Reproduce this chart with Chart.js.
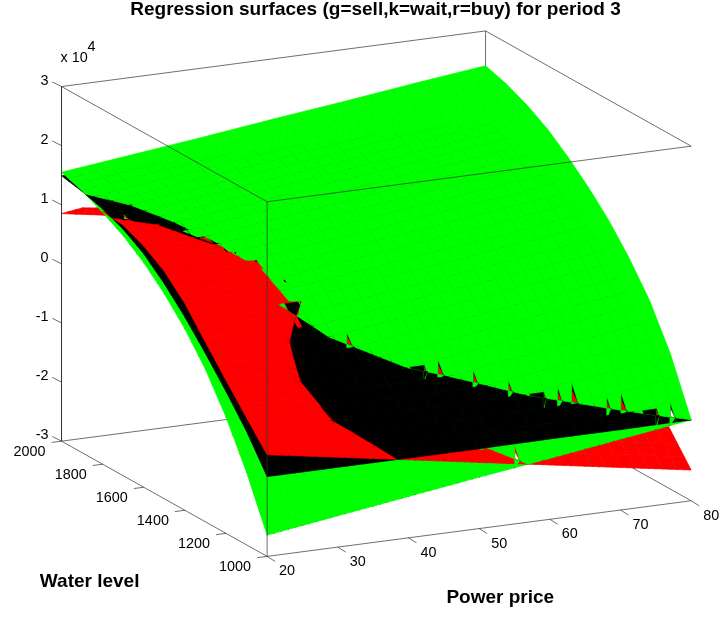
<!DOCTYPE html>
<html>
<head>
<meta charset="utf-8">
<title>Regression surfaces</title>
<script src="https://cdn.jsdelivr.net/npm/chart.js@4"></script>
<style>
  html, body { margin: 0; padding: 0; background: #fff; }
  canvas { display: block; }
</style>
</head>
<body>
<canvas id="surfaceChart" width="721" height="617"></canvas>
<script>
// axis values
let powerPrices = [20, 30, 40, 50, 60, 70, 80];
let waterLevels = [1000, 1100, 1200, 1300, 1400, 1500, 1600, 1700, 1800, 1900, 2000];
let levelTicks = [1000, 1200, 1400, 1600, 1800, 2000];
let valueTicks = [-3, -2, -1, 0, 1, 2, 3];

// surface heights in units of 10^4, one row per water level, one column per price
let sellSurface = [
  [-2.64, -2.47, -2.30, -2.13, -1.97, -1.80, -1.63],
  [-1.77, -1.60, -1.42, -1.25, -1.07, -0.90, -0.72],
  [-1.03, -0.86, -0.69, -0.53, -0.36, -0.19, -0.02],
  [-0.42, -0.27, -0.11, 0.05, 0.20, 0.36, 0.51],
  [0.07, 0.22, 0.37, 0.52, 0.66, 0.81, 0.96],
  [0.47, 0.61, 0.76, 0.90, 1.04, 1.19, 1.33],
  [0.80, 0.94, 1.08, 1.23, 1.37, 1.51, 1.65],
  [1.06, 1.21, 1.35, 1.50, 1.64, 1.79, 1.93],
  [1.26, 1.41, 1.55, 1.70, 1.85, 1.99, 2.14],
  [1.43, 1.58, 1.72, 1.87, 2.01, 2.16, 2.30],
  [1.55, 1.69, 1.83, 1.98, 2.12, 2.27, 2.41],
];
let waitSurface = [
  [-1.65, -1.65, -1.65, -1.65, -1.64, -1.64, -1.63],
  [-1.08, -1.08, -1.08, -1.08, -1.08, -1.08, -1.08],
  [-0.60, -0.60, -0.60, -0.60, -0.60, -0.60, -0.60],
  [-0.15, -0.15, -0.15, -0.15, -0.15, -0.15, -0.15],
  [0.27, 0.27, 0.27, 0.27, 0.27, 0.27, 0.27],
  [0.64, 0.64, 0.64, 0.64, 0.64, 0.64, 0.64],
  [0.95, 0.95, 0.95, 0.95, 0.95, 0.95, 0.95],
  [1.17, 1.17, 1.17, 1.17, 1.17, 1.17, 1.17],
  [1.32, 1.32, 1.32, 1.32, 1.32, 1.32, 1.32],
  [1.42, 1.42, 1.42, 1.42, 1.42, 1.42, 1.42],
  [1.49, 1.49, 1.49, 1.49, 1.49, 1.49, 1.49],
];
let buySurface = [
  [-1.28, -1.48, -1.68, -1.88, -2.08, -2.28, -2.48],
  [-0.85, -1.04, -1.23, -1.43, -1.62, -1.81, -2.00],
  [-0.41, -0.59, -0.78, -0.96, -1.14, -1.33, -1.51],
  [0.04, -0.12, -0.28, -0.43, -0.59, -0.75, -0.91],
  [0.50, 0.36, 0.22, 0.08, -0.07, -0.21, -0.35],
  [0.85, 0.72, 0.58, 0.45, 0.32, 0.18, 0.05],
  [1.08, 0.95, 0.81, 0.68, 0.55, 0.41, 0.28],
  [1.24, 1.10, 0.96, 0.82, 0.67, 0.53, 0.39],
  [1.27, 1.12, 0.97, 0.82, 0.67, 0.52, 0.37],
  [1.14, 0.97, 0.79, 0.62, 0.44, 0.27, 0.09],
  [0.85, 0.65, 0.45, 0.25, 0.05, -0.15, -0.35],
];

let surfaces = [
  { rows: sellSurface, color: "#00ff00" },
  { rows: waitSurface, color: "#000000" },
  { rows: buySurface, color: "#ff0000" },
];

// how many pieces each grid cell is cut into, gives the mesh its speckle
let pricePieces = 5;
let levelPieces = 3;

// oblique view of the box, in canvas units
function project(price, level, value) {
  let t = (price - 20) / 60;
  let v = (level - 1000) / 1000;
  let w = (value + 3) / 6;
  return {
    x: 268.5 + 426.5 * t - 206.8 * v,
    y: 560 - 56 * t - 116 * v - 357 * w,
  };
}

// height of a surface inside one grid cell
function heightAt(rows, i, j, price, level) {
  let a = (price - powerPrices[j]) / (powerPrices[j + 1] - powerPrices[j]);
  let b = (level - waterLevels[i]) / (waterLevels[i + 1] - waterLevels[i]);
  return (
    rows[i][j] * (1 - a) * (1 - b) +
    rows[i][j + 1] * a * (1 - b) +
    rows[i + 1][j] * (1 - a) * b +
    rows[i + 1][j + 1] * a * b
  );
}

// cut a polygon in two where the function gap changes sign
function splitPolygon(poly, gap) {
  let above = [];
  let below = [];
  poly.forEach(function (p, n) {
    let q = poly[(n + 1) % poly.length];
    let gp = gap(p);
    let gq = gap(q);
    (gp >= 0 ? above : below).push(p);
    if (gp >= 0 !== gq >= 0) {
      let s = gp / (gp - gq);
      let cut = [p[0] + (q[0] - p[0]) * s, p[1] + (q[1] - p[1]) * s];
      above.push(cut);
      below.push(cut);
    }
  });
  return [above, below].filter(function (part) {
    return part.length > 2;
  });
}

// build the surface pieces. The viewer looks from the low price, low level
// corner and from above, so nearer cells come first and inside a cell the
// highest piece comes first.
let pieces = [];
for (let i = 0; i < waterLevels.length - 1; i++) {
  for (let b = 0; b < levelPieces; b++) {
    for (let j = 0; j < powerPrices.length - 1; j++) {
      for (let a = 0; a < pricePieces; a++) {
        let dp = (powerPrices[j + 1] - powerPrices[j]) / pricePieces;
        let dl = (waterLevels[i + 1] - waterLevels[i]) / levelPieces;
        let p0 = powerPrices[j] + a * dp;
        let l0 = waterLevels[i] + b * dl;
        let cellPieces = [];
        surfaces.forEach(function (surface) {
          let polys = [[[p0, l0], [p0 + dp, l0], [p0 + dp, l0 + dl], [p0, l0 + dl]]];
          surfaces.forEach(function (other) {
            if (other === surface) return;
            let gap = function (p) {
              return heightAt(surface.rows, i, j, p[0], p[1]) - heightAt(other.rows, i, j, p[0], p[1]);
            };
            let next = [];
            polys.forEach(function (poly) {
              next = next.concat(splitPolygon(poly, gap));
            });
            polys = next;
          });
          polys.forEach(function (poly) {
            // whole cells get an extra corner on one edge for the mesh dots
            let speckled = poly.length === 4;
            if (speckled) {
              poly = [poly[0], [p0 + dp / 2, l0], poly[1], poly[2], poly[3]];
            }
            let sum = 0;
            let points = poly.map(function (p) {
              let z = heightAt(surface.rows, i, j, p[0], p[1]);
              sum += z;
              return project(p[0], p[1], z);
            });
            points.push(points[0]);
            cellPieces.push({
              points: points,
              color: surface.color,
              height: sum / poly.length,
              speckled: speckled,
            });
          });
        });
        cellPieces.sort(function (x, y) {
          return y.height - x.height;
        });
        pieces = pieces.concat(cellPieces);
      }
    }
  }
}

function lineDataset(points, color) {
  return {
    data: points,
    showLine: true,
    fill: false,
    borderColor: color,
    borderWidth: 1,
    pointRadius: 0,
    clip: false,
  };
}

// box edges seen in front of the surfaces, and tick marks
let frontLines = [
  [project(20, 1000, -3), project(20, 1000, 3)],
  [project(20, 1000, 3), project(80, 1000, 3)],
  [project(20, 1000, 3), project(20, 2000, 3)],
  [project(20, 2000, 3), project(20, 2000, -3)],
  [project(20, 2000, 3), project(80, 2000, 3)],
  [project(80, 2000, 3), project(80, 1000, 3)],
  [project(20, 2000, -3), project(20, 1000, -3)],
  [project(20, 1000, -3), project(80, 1000, -3)],
];
valueTicks.forEach(function (tick) {
  let p = project(20, 2000, tick);
  frontLines.push([p, { x: p.x - 9.3, y: p.y - 4.7 }]);
});
levelTicks.forEach(function (tick) {
  let p = project(20, tick, -3);
  frontLines.push([p, { x: p.x - 10, y: p.y + 1.3 }]);
});
powerPrices.forEach(function (tick) {
  let p = project(tick, 1000, -3);
  frontLines.push([p, { x: p.x + 8, y: p.y + 5 }]);
});

// box edges hidden behind the surfaces
let backLines = [
  [project(80, 2000, -3), project(80, 2000, 3)],
  [project(20, 2000, -3), project(80, 2000, -3)],
  [project(80, 2000, -3), project(80, 1000, -3)],
];

let boxColor = "rgba(50,50,50,0.7)";

// dataset 0 is painted last, so front things come first
let datasets = [];
frontLines.forEach(function (line) {
  datasets.push(lineDataset(line, boxColor));
});
pieces.forEach(function (piece) {
  datasets.push({
    data: piece.points,
    showLine: true,
    fill: "shape",
    backgroundColor: piece.color,
    borderColor: piece.color,
    borderWidth: 0.7,
    pointRadius: function (ctx) {
      return piece.speckled && ctx.dataIndex < 2 ? 0.5 : 0;
    },
    pointBackgroundColor: "rgba(0,0,0,0.55)",
    pointBorderWidth: 0,
    clip: false,
  });
});
backLines.forEach(function (line) {
  datasets.push(lineDataset(line, boxColor));
});

// tick labels and axis names
let labelPlugin = {
  id: "labelPlugin",
  afterDraw: function (chart) {
    let ctx = chart.ctx;
    let xs = chart.scales.x;
    let ys = chart.scales.y;
    function put(text, p, dx, dy, font, align) {
      ctx.font = font;
      ctx.textAlign = align || "center";
      ctx.textBaseline = "middle";
      ctx.fillStyle = "#000";
      ctx.fillText(text, xs.getPixelForValue(p.x) + dx, ys.getPixelForValue(p.y) + dy);
    }
    let tickFont = '14.4px "Liberation Sans"';
    let nameFont = 'bold 19px "Liberation Sans"';
    valueTicks.forEach(function (tick) {
      put(String(tick), project(20, 2000, tick), -13, -6, tickFont, "right");
    });
    levelTicks.forEach(function (tick) {
      put(String(tick), project(20, tick, -3), -32, 11, tickFont);
    });
    powerPrices.forEach(function (tick) {
      put(String(tick), project(tick, 1000, -3), 20, 15, tickFont);
    });
    put("x 10", project(20, 2000, 3), -1, -29, tickFont, "left");
    put("4", project(20, 2000, 3), 30, -40, tickFont);
    put("Water level", { x: 90, y: 586 }, 0, 0, nameFont);
    put("Power price", { x: 503, y: 602 }, 0, 0, nameFont);
  },
};

let surfaceChart = new Chart(document.querySelector("#surfaceChart"), {
  type: "scatter",
  data: { datasets: datasets },
  options: {
    responsive: false,
    animation: false,
    events: [],
    layout: { padding: { left: 30 } },
    scales: {
      x: { type: "linear", display: false, min: 30, max: 721 },
      y: { type: "linear", display: false, reverse: true, min: 20, max: 617 },
    },
    plugins: {
      legend: { display: false },
      tooltip: { enabled: false },
      title: {
        display: true,
        text: "Regression surfaces (g=sell,k=wait,r=buy) for period 3",
        color: "#000",
        padding: 0,
        font: { family: "Liberation Sans", size: 19, weight: "bold", lineHeight: 1.0526 },
      },
    },
  },
  plugins: [labelPlugin],
});
</script>
</body>
</html>
